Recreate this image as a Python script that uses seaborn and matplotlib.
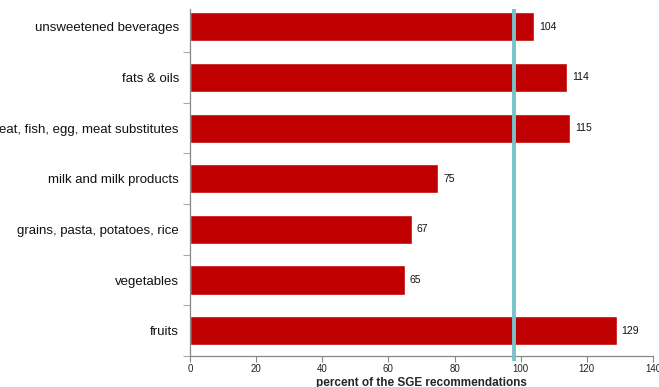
import matplotlib
matplotlib.use("Agg")
import matplotlib.pyplot as plt
import seaborn as sns
import pandas as pd
import numpy as np

categories = ["unsweetened beverages", "fats & oils", "meat, fish, egg, meat substitutes",
              "milk and milk products", "grains, pasta, potatoes, rice", "vegetables", "fruits"]
values = [104, 114, 115, 75, 67, 65, 129]
reference_value = 98
xticks = [0, 20, 40, 60, 80, 100, 120, 140]

sns.set_theme(style="white")
plt.rcParams['font.family'] = ['Liberation Sans', 'DejaVu Sans']

df = pd.DataFrame({"category": categories, "value": values})

fig = plt.figure(figsize=(6.59, 3.87), dpi=100)
ax = fig.add_axes([190/659, 1-356/387, 463/659, (356-1.5)/387])

sns.barplot(data=df, y="category", x="value", orient="h", color="#C00000",
            saturation=1, width=0.575, ax=ax)

ax.set_xlim(0, 140)
ax.set_ylim(6.5, -0.5)
ax.set_xticks(xticks)
ax.set_xticklabels([str(t) for t in xticks], fontsize=7, color="#222222")
ax.tick_params(axis="x", which="major", bottom=True, length=4, width=0.8, color="#888888",
               pad=2, direction="out")
ax.tick_params(axis="y", which="major", left=False, length=0, pad=8, labelsize=9.5,
               labelcolor="#111111")
ax.set_yticks(np.arange(0.5, 7, 1), minor=True)
ax.tick_params(axis="y", which="minor", left=True, length=5, width=0.8, color="#aaaaaa",
               direction="out")
ax.set_ylabel("")
ax.set_xlabel("percent of the SGE recommendations", fontsize=8.5, fontweight="bold", labelpad=2)

for s in ["top", "right"]:
    ax.spines[s].set_visible(False)
for s in ["left", "bottom"]:
    ax.spines[s].set_color("#888888")
    ax.spines[s].set_linewidth(0.9)
ax.spines["left"].set_bounds(6.5, -0.36)

for i, v in enumerate(values):
    ax.text(v + 1.5, i, str(v), va="center", ha="left", fontsize=7.5, color="#111111")

ax.plot([reference_value, reference_value], [6.6, -0.36], color="#78C2C9", linewidth=2.8,
        clip_on=False, zorder=5, solid_capstyle="butt")

fig.savefig("out.png", dpi=100)
